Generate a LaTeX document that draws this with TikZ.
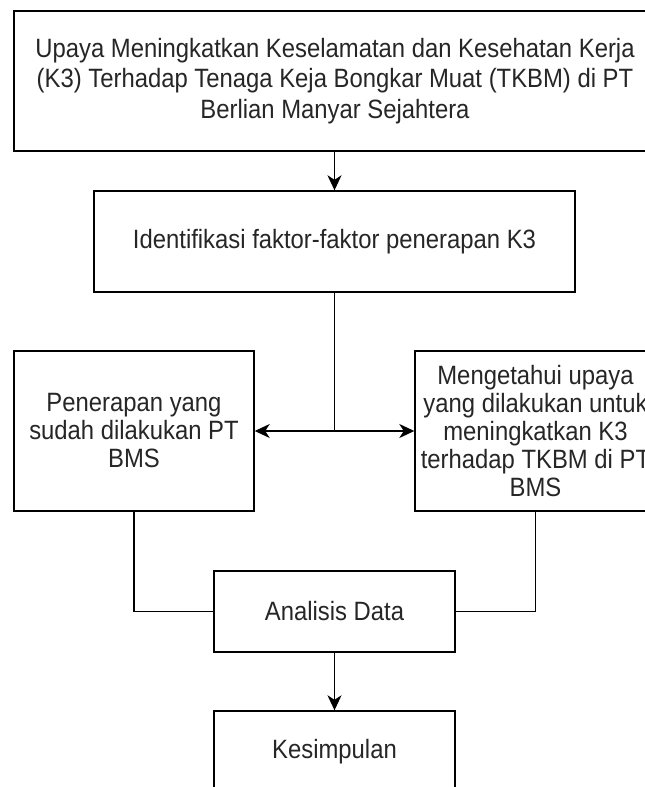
\documentclass[tikz,border=0pt]{standalone}
\usepackage{fontspec}
\setmainfont{Liberation Sans}[FakeStretch=0.9]
\usetikzlibrary{arrows.meta}
\tikzset{
  box/.style={draw=black, line width=1.4pt, rectangle, inner sep=0pt, align=center,
    font=\fontsize{26.5}{28}\selectfont, text=black!85},
  bigbox/.style={box, font=\fontsize{26.5}{30.5}\selectfont},
  conn/.style={draw=black, line width=1.4pt},
  arr/.style={conn, -{Stealth[length=15pt,width=14pt,inset=4.5pt]}}
}
\begin{document}
\begin{tikzpicture}[x=1pt,y=-1pt]
\useasboundingbox (0,0) rectangle (645,787);
\clip (0,0) rectangle (645,787);
\fill[white] (0,0) rectangle (645,787);
\node[bigbox, minimum width=642pt, minimum height=140pt] (top) at (335,81)
  {Upaya Meningkatkan Keselamatan dan Kesehatan Kerja\\(K3) Terhadap Tenaga Keja Bongkar Muat (TKBM) di PT\\Berlian Manyar Sejahtera};
\node[box, minimum width=481pt, minimum height=101pt] (ident) at (334.5,241.5)
  {Identifikasi faktor-faktor penerapan K3};
\node[box, minimum width=240pt, minimum height=160pt] (left) at (134,431)
  {Penerapan yang\\sudah dilakukan PT\\BMS};
\node[box, minimum width=241pt, minimum height=160pt] (right) at (535.5,431)
  {Mengetahui upaya\\yang dilakukan untuk\\meningkatkan K3\\terhadap TKBM di PT\\BMS};
\node[box, minimum width=241pt, minimum height=81pt] (ana) at (334.5,611.5)
  {Analisis Data};
\node[box, minimum width=241pt, minimum height=81pt] (kes) at (334.5,751.5)
  {Kesimpulan};
\coordinate (j) at (ident.south |- left.east);
\draw[arr] (top.south -| ident.south) -- (ident.north);
\draw[conn] (ident.south) -- (j);
\draw[arr] (j) -- (left.east);
\draw[arr] (j) -- (right.west);
\draw[conn] (left.south) |- (ana.west);
\draw[conn] (right.south) |- (ana.east);
\draw[arr] (ana.south) -- (kes.north);
\end{tikzpicture}
\end{document}
